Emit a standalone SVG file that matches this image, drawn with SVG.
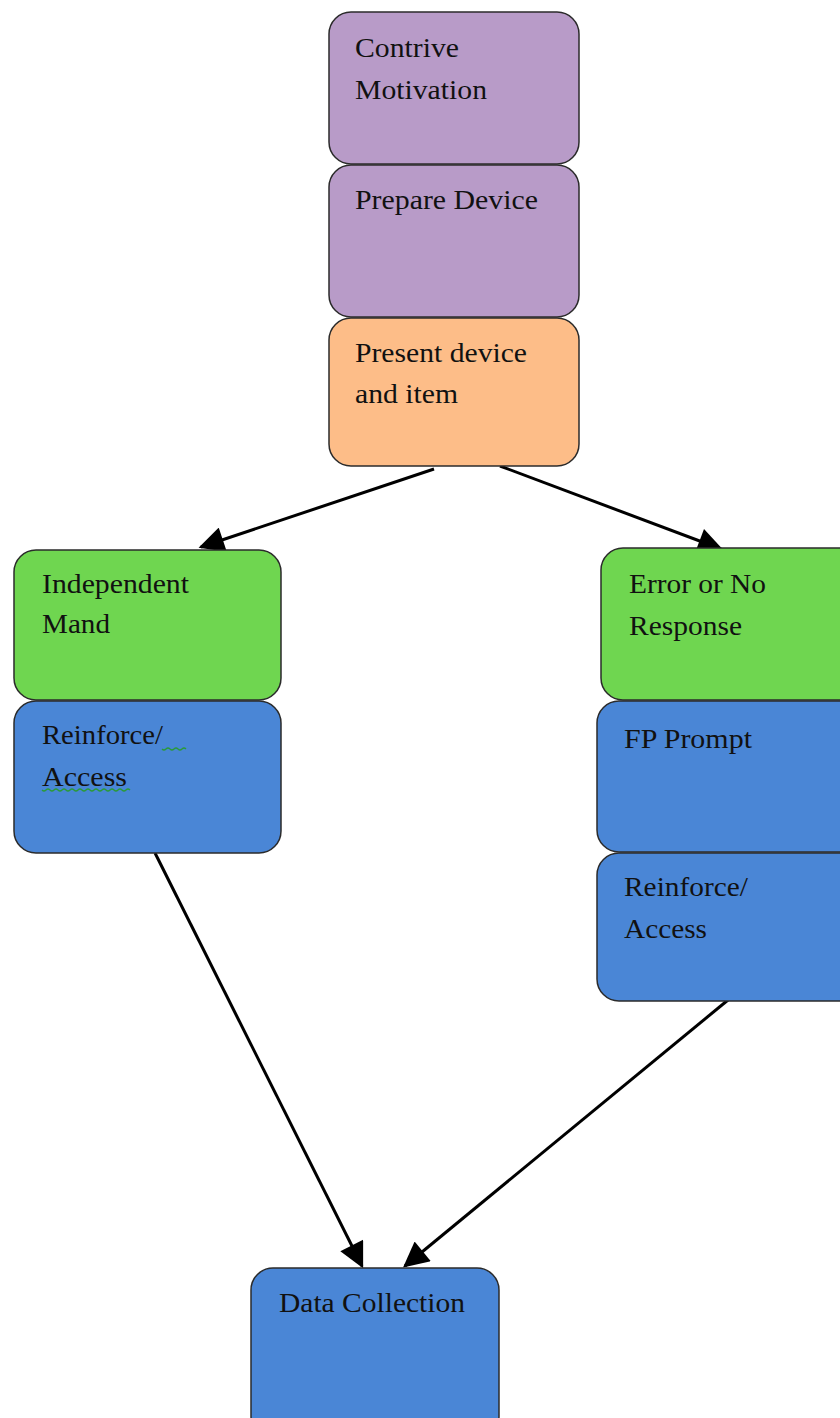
<svg xmlns="http://www.w3.org/2000/svg" width="840" height="1418" viewBox="0 0 840 1418">
<style>
.box{stroke:#2b2b2b;stroke-width:1.5}
.purple{fill:#B89BC8}
.orange{fill:#FDBD88}
.green{fill:#6FD650}
.blue{fill:#4A86D6}
text{font-family:"Liberation Serif","Times New Roman",serif;font-size:27px;fill:#111}
.conn{stroke:#000;stroke-width:3;fill:none;marker-end:url(#ah)}
.squig{stroke:#2a9a3a;stroke-width:1.3;fill:none}
</style>
<defs>
<marker id="ah" viewBox="0 0 10 10" refX="9" refY="5" markerWidth="9" markerHeight="8.5" markerUnits="strokeWidth" orient="auto">
<path d="M0,0 L10,5 L0,10 z" fill="#000"/>
</marker>
</defs>
<rect width="840" height="1418" fill="#fff"/>
<g id="connectors">
<line class="conn" x1="434" y1="469" x2="201" y2="547"/>
<line class="conn" x1="500" y1="466" x2="721" y2="549"/>
<line class="conn" x1="155" y1="853" x2="362" y2="1266"/>
<line class="conn" x1="728" y1="1000" x2="405" y2="1266"/>
</g>
<g id="contrive">
<rect class="box purple" x="329" y="12" width="250" height="152" rx="22"/>
<text x="355" y="57" textLength="104" lengthAdjust="spacingAndGlyphs">Contrive</text>
<text x="355" y="99" textLength="132" lengthAdjust="spacingAndGlyphs">Motivation</text>
</g>
<g id="prepare">
<rect class="box purple" x="329" y="165" width="250" height="152" rx="22"/>
<text x="355" y="209" textLength="183" lengthAdjust="spacingAndGlyphs">Prepare Device</text>
</g>
<g id="present">
<rect class="box orange" x="329" y="318" width="250" height="148" rx="22"/>
<text x="355" y="362" textLength="172" lengthAdjust="spacingAndGlyphs">Present device</text>
<text x="355" y="403" textLength="103" lengthAdjust="spacingAndGlyphs">and item</text>
</g>
<g id="independent">
<rect class="box green" x="14" y="550" width="267" height="150" rx="22"/>
<text x="42" y="593" textLength="147" lengthAdjust="spacingAndGlyphs">Independent</text>
<text x="42" y="633" textLength="68" lengthAdjust="spacingAndGlyphs">Mand</text>
</g>
<g id="reinforce-left">
<rect class="box blue" x="14" y="701" width="267" height="152" rx="22"/>
<text x="42" y="744" textLength="121" lengthAdjust="spacingAndGlyphs">Reinforce/</text>
<text x="42" y="786" textLength="85" lengthAdjust="spacingAndGlyphs">Access</text>
<path class="squig" d="M162,749 q2,2 4,0 t4,0 t4,0 t4,0 t4,0 t4,0"/>
<path class="squig" d="M42,790 q2,2 4,0 t4,0 t4,0 t4,0 t4,0 t4,0 t4,0 t4,0 t4,0 t4,0 t4,0 t4,0 t4,0 t4,0 t4,0 t4,0 t4,0 t4,0 t4,0 t4,0 t4,0 t4,0"/>
</g>
<g id="error">
<rect class="box green" x="601" y="548" width="260" height="152" rx="22"/>
<text x="629" y="593" textLength="137" lengthAdjust="spacingAndGlyphs">Error or No</text>
<text x="629" y="635" textLength="113" lengthAdjust="spacingAndGlyphs">Response</text>
</g>
<g id="fp-prompt">
<rect class="box blue" x="597" y="701" width="264" height="151" rx="22"/>
<text x="624" y="748" textLength="128" lengthAdjust="spacingAndGlyphs">FP Prompt</text>
</g>
<g id="reinforce-right">
<rect class="box blue" x="597" y="853" width="264" height="148" rx="22"/>
<text x="624" y="896" textLength="124" lengthAdjust="spacingAndGlyphs">Reinforce/</text>
<text x="624" y="938" textLength="83" lengthAdjust="spacingAndGlyphs">Access</text>
</g>
<g id="data-collection">
<rect class="box blue" x="251" y="1268" width="248" height="170" rx="22"/>
<text x="279" y="1312" textLength="186" lengthAdjust="spacingAndGlyphs">Data Collection</text>
</g>
</svg>
